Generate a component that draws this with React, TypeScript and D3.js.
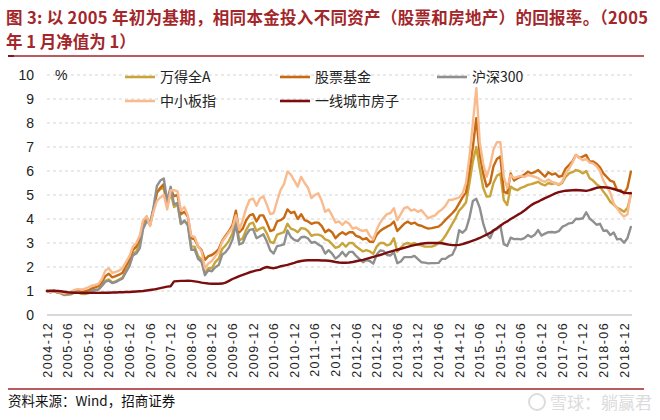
import React from "react";
import * as d3 from "d3";

// Monthly net values, 2004-12 (index 0) to 2019-02 (index 170); base = 1 at 2004-12
const tickLabels = [
  "2004-12", "2005-06", "2005-12", "2006-06", "2006-12", "2007-06", "2007-12", "2008-06",
  "2008-12", "2009-06", "2009-12", "2010-06", "2010-12", "2011-06", "2011-12", "2012-06",
  "2012-12", "2013-06", "2013-12", "2014-06", "2014-12", "2015-06", "2015-12", "2016-06",
  "2016-12", "2017-06", "2017-12", "2018-06", "2018-12",
];

const yTicks = [0, 1, 2, 3, 4, 5, 6, 7, 8, 9, 10];

const seriesNames = ["万得全A", "股票基金", "沪深300", "中小板指", "一线城市房子"];

const windAllA = [
  1.0,
  0.95, 1.0, 0.93, 0.9, 0.83, 0.84, 0.86, 0.93, 0.93, 0.88, 0.87, 0.9,
  0.99, 1.03, 1.06, 1.22, 1.42, 1.48, 1.36, 1.4, 1.48, 1.56, 1.85, 2.1,
  2.55, 2.65, 2.95, 3.8, 4.0, 3.75, 4.4, 5.1, 5.25, 5.3, 4.5, 5.1,
  4.5, 4.6, 3.8, 3.9, 3.8, 2.85, 2.85, 2.45, 2.3, 1.72, 1.95, 1.95,
  2.2, 2.35, 2.75, 2.9, 3.1, 3.4, 3.95, 3.1, 3.2, 3.55, 3.8, 3.85,
  3.5, 3.6, 3.65, 3.4, 3.05, 3.0, 3.35, 3.4, 3.45, 3.8, 3.6, 3.55,
  3.45, 3.62, 3.6, 3.5, 3.3, 3.35, 3.35, 3.3, 3.15, 3.1, 2.95, 2.8,
  2.85, 3.0, 2.85, 3.0, 3.0, 2.85, 2.75, 2.65, 2.7, 2.65, 2.55, 2.85,
  3.0, 3.0, 2.9, 2.95, 3.2, 2.64, 2.8, 2.95, 3.0, 2.95, 3.0, 2.92,
  2.9, 2.85, 2.85, 2.85, 2.9, 3.0, 3.1, 3.3, 3.55, 3.8, 4.05, 4.35,
  4.5, 4.7, 5.5, 6.4, 7.0, 6.1, 5.3, 4.93, 4.95, 5.5, 5.8, 5.9,
  4.79, 4.58, 5.35, 5.25, 5.2, 5.3, 5.35, 5.42, 5.45, 5.5, 5.55, 5.45,
  5.4, 5.5, 5.45, 5.5, 5.42, 5.5, 5.75, 5.9, 5.95, 6.04, 6.0, 5.9,
  6.0, 5.7, 5.6, 5.45, 5.35, 5.14, 4.95, 4.72, 4.6, 4.46, 4.4, 4.3,
  4.45, 5.0,
];

const stockFund = [
  1.0,
  0.96, 1.01, 0.95, 0.93, 0.87, 0.89, 0.92, 0.99, 1.0, 0.97, 0.98, 1.02,
  1.1, 1.15, 1.2, 1.38, 1.62, 1.72, 1.57, 1.62, 1.68, 1.76, 2.05, 2.3,
  2.7, 2.85, 3.15, 3.9, 4.1, 3.75, 4.4, 5.1, 5.3, 5.45, 4.6, 5.25,
  4.95, 5.0, 4.2, 4.3, 4.1, 3.2, 3.15, 2.85, 2.7, 2.3, 2.45, 2.5,
  2.6, 2.75, 3.1, 3.3, 3.5, 3.75, 4.35, 3.45, 3.6, 3.95, 4.15, 4.2,
  3.9, 4.15, 4.15, 3.85, 3.5, 3.55, 3.9, 3.95, 4.05, 4.4, 4.25, 4.3,
  4.0, 4.2, 3.95, 3.9, 3.8, 3.85, 3.85, 3.7, 3.45, 3.55, 3.45, 3.2,
  3.35, 3.45, 3.35, 3.45, 3.45, 3.3, 3.25, 3.15, 3.2, 3.05, 3.05, 3.35,
  3.5, 3.6, 3.68, 3.75, 3.89, 3.5, 3.65, 3.8, 3.89, 3.8, 3.85, 3.75,
  3.72, 3.65, 3.6, 3.62, 3.65, 3.68, 3.8, 3.96, 4.1, 4.24, 4.4, 4.65,
  4.9, 5.1, 6.0, 7.0, 8.2, 6.7, 5.9, 5.35, 5.5, 6.2, 6.5, 6.6,
  5.14, 5.07, 5.9, 5.6, 5.7, 5.76, 5.85, 5.97, 5.9, 5.95, 6.04, 5.9,
  5.76, 5.95, 5.85, 5.9, 5.76, 5.8, 6.1, 6.25, 6.4, 6.67, 6.55, 6.6,
  6.67, 6.39, 6.4, 6.3, 6.15, 5.9, 5.75, 5.6, 5.55, 5.2, 5.2, 5.07,
  5.3, 5.97,
];

const csi300 = [
  1.0,
  0.94, 1.01, 0.94, 0.93, 0.85, 0.87, 0.89, 0.96, 0.95, 0.91, 0.9, 0.92,
  1.01, 1.04, 1.07, 1.22, 1.39, 1.43, 1.33, 1.37, 1.45, 1.52, 1.79, 2.04,
  2.48, 2.56, 2.78, 3.59, 3.9, 3.81, 4.47, 5.38, 5.6, 5.69, 4.74, 5.34,
  4.61, 4.67, 3.79, 3.94, 3.73, 2.72, 2.73, 2.34, 2.21, 1.66, 1.87, 1.82,
  1.99, 2.08, 2.51, 2.62, 2.81, 3.14, 3.78, 2.94, 3.0, 3.34, 3.55, 3.58,
  3.2, 3.28, 3.36, 3.07, 2.69, 2.56, 2.87, 2.9, 2.94, 3.52, 3.25, 3.13,
  3.08, 3.24, 3.26, 3.19, 3.01, 3.04, 2.94, 2.85, 2.56, 2.7, 2.56, 2.35,
  2.46, 2.63, 2.45, 2.63, 2.63, 2.46, 2.33, 2.2, 2.29, 2.25, 2.14, 2.52,
  2.69, 2.67, 2.5, 2.48, 2.62, 2.16, 2.23, 2.41, 2.41, 2.41, 2.46, 2.33,
  2.2, 2.18, 2.15, 2.16, 2.16, 2.17, 2.34, 2.34, 2.45, 2.51, 2.81, 3.53,
  3.43, 3.57, 4.05, 4.75, 4.84, 4.47, 3.82, 3.37, 3.2, 3.53, 3.57, 3.73,
  2.95, 2.88, 3.22, 3.16, 3.17, 3.15, 3.2, 3.33, 3.25, 3.34, 3.54, 3.31,
  3.39, 3.45, 3.46, 3.44, 3.49, 3.67, 3.74, 3.82, 3.84, 4.01, 4.0, 4.03,
  4.28, 4.02, 3.9, 3.76, 3.8, 3.51, 3.52, 3.33, 3.44, 3.15, 3.17, 3.01,
  3.2, 3.67,
];

const smeIndex = [
  1.0,
  0.96, 1.02, 0.96, 0.95, 0.9, 0.93, 0.97, 1.05, 1.08, 1.06, 1.1, 1.15,
  1.22, 1.25, 1.3, 1.5, 1.85, 1.95, 1.75, 1.8, 1.85, 1.95, 2.2, 2.45,
  2.85, 3.0, 3.3, 3.95, 4.1, 3.7, 4.3, 4.75, 4.9, 5.0, 4.4, 5.2,
  5.2, 5.15, 4.35, 4.5, 4.15, 3.3, 3.25, 2.85, 2.65, 1.95, 2.15, 2.25,
  2.45, 2.65, 3.05, 3.25, 3.45, 3.65, 4.15, 3.55, 3.95, 4.45, 4.8, 4.85,
  4.55, 4.85, 4.95, 4.6, 4.2, 4.25, 4.75, 5.2, 5.45, 5.97, 5.85, 5.6,
  5.35, 5.76, 5.5, 5.3, 4.87, 5.0, 5.07, 4.75, 4.3, 4.4, 4.15, 3.85,
  3.9, 3.75, 3.9, 3.8, 3.6, 3.65, 3.55, 3.5, 3.55, 3.3, 3.15, 3.55,
  3.85, 4.05, 4.2, 4.25, 4.45, 3.95, 4.2, 4.45, 4.5, 4.35, 4.4, 4.3,
  4.37, 4.2, 4.03, 4.1, 4.15, 4.3, 4.4, 4.55, 4.79, 4.8, 4.85, 4.9,
  5.07, 5.5, 6.6, 8.0, 9.45, 7.2, 6.3, 5.76, 6.2, 6.9, 7.2, 7.2,
  5.76, 5.28, 5.83, 5.7, 5.76, 5.8, 5.75, 5.83, 5.8, 5.76, 5.7, 5.6,
  5.55, 5.65, 5.55, 5.5, 5.45, 5.55, 5.9, 6.1, 6.35, 6.67, 6.55, 6.45,
  6.5, 6.35, 6.32, 6.2, 6.0, 5.6, 5.35, 5.1, 4.65, 4.45, 4.24, 4.1,
  4.2, 5.1,
];

const tier1Housing = [
  1.0,
  1.01, 1.01, 1.0, 0.99, 0.97, 0.95, 0.94, 0.93, 0.92, 0.92, 0.92, 0.92,
  0.92, 0.92, 0.92, 0.93, 0.93, 0.93, 0.94, 0.94, 0.95, 0.95, 0.96, 0.96,
  0.97, 0.98, 0.99, 1.0, 1.02, 1.04, 1.06, 1.09, 1.12, 1.15, 1.18, 1.2,
  1.4, 1.41, 1.42, 1.42, 1.43, 1.42, 1.4, 1.38, 1.35, 1.33, 1.31, 1.3,
  1.3, 1.3, 1.31, 1.35, 1.42, 1.5, 1.56, 1.62, 1.67, 1.72, 1.78, 1.82,
  1.86, 1.88, 1.95, 2.0, 1.97, 1.95, 1.98, 2.03, 2.06, 2.09, 2.13, 2.17,
  2.22, 2.25, 2.27, 2.28, 2.28, 2.28, 2.28, 2.27, 2.27, 2.26, 2.24, 2.21,
  2.19, 2.18, 2.18, 2.19, 2.21, 2.24, 2.27, 2.3, 2.34, 2.38, 2.42, 2.46,
  2.5, 2.55, 2.6, 2.64, 2.68, 2.72, 2.76, 2.8, 2.84, 2.88, 2.91, 2.94,
  2.97, 2.99, 3.0, 3.0, 3.0, 3.0, 2.99, 2.96, 2.93, 2.91, 2.91, 2.92,
  2.95, 3.0, 3.05, 3.1, 3.15, 3.21, 3.28, 3.35, 3.42, 3.52, 3.62, 3.72,
  3.82, 3.9, 4.0, 4.08, 4.17, 4.25, 4.35, 4.47, 4.58, 4.66, 4.72, 4.8,
  4.87, 4.93, 5.0, 5.07, 5.12, 5.15, 5.18, 5.19, 5.2, 5.21, 5.2, 5.19,
  5.17, 5.2, 5.25, 5.3, 5.32, 5.32, 5.31, 5.29, 5.25, 5.2, 5.15, 5.1,
  5.08, 5.07,
];

const seriesValues = [windAllA, stockFund, csi300, smeIndex, tier1Housing];
const seriesColors = ["#C9A43A", "#C86A12", "#8F8F8F", "#F9BB8D", "#7A0E0E"];

const CJK = "'Noto Sans CJK SC', 'Noto Sans', sans-serif";
const LATIN = "'Liberation Sans', Arial, sans-serif";

export default function App() {
  const W = 660;
  const H = 420;
  const x = d3.scaleLinear().domain([0, 168]).range([47, 624]);
  const y = d3.scaleLinear().domain([0, 10]).range([315, 75]);
  const plotRight = 632;

  const line = d3
    .line<number>()
    .x((_, i) => x(i))
    .y((d) => y(d))
    .curve(d3.curveLinear);

  const legendItems = [
    { name: seriesNames[0], color: seriesColors[0], lx: 125, ly: 77 },
    { name: seriesNames[1], color: seriesColors[1], lx: 280, ly: 77 },
    { name: seriesNames[2], color: seriesColors[2], lx: 437, ly: 77 },
    { name: seriesNames[3], color: seriesColors[3], lx: 125, ly: 101 },
    { name: seriesNames[4], color: seriesColors[4], lx: 280, ly: 101 },
  ];

  const titleColor = "#A3262A";

  return (
    <svg
      width={W}
      height={H}
      viewBox={`0 0 ${W} ${H}`}
      style={{ position: "absolute", left: 0, top: 0, background: "#fff" }}
    >
      <rect x={0} y={0} width={W} height={H} fill="#fff" />
      {/* Title */}
      <text
        x={6}
        y={24}
        fill={titleColor}
        fontFamily={CJK}
        fontWeight={700}
        fontSize={16.5}
        textLength={642}
        lengthAdjust="spacing"
      >
        图 3: 以 2005 年初为基期，相同本金投入不同资产（股票和房地产）的回报率。（2005
      </text>
      <text x={6} y={48} fill={titleColor} fontFamily={CJK} fontWeight={700} fontSize={16.5}>
        年 1 月净值为 1）
      </text>
      <line x1={8} x2={644} y1={56} y2={56} stroke={titleColor} strokeWidth={1.5} />
      <line x1={8} x2={14} y1={56} y2={56} stroke="#7a1a1a" strokeWidth={2} />

      {/* Gridlines */}
      {yTicks.map((t) =>
        t === 0 ? null : (
          <line
            key={`g${t}`}
            x1={x(0)}
            x2={plotRight}
            y1={y(t)}
            y2={y(t)}
            stroke="#d4d4d4"
            strokeWidth={1}
            strokeDasharray="3,3"
          />
        )
      )}
      <line x1={x(0)} x2={plotRight} y1={y(0)} y2={y(0)} stroke="#d9d9d9" strokeWidth={2} />

      {/* Y labels */}
      {yTicks.map((t) => (
        <text
          key={`yl${t}`}
          x={34}
          y={y(t)}
          dy="0.36em"
          textAnchor="end"
          fontFamily={LATIN}
          fontSize={14}
          fill="#222"
        >
          {t}
        </text>
      ))}
      <text x={55} y={y(10)} dy="0.36em" fontFamily={LATIN} fontSize={14} fill="#222">
        %
      </text>

      {/* X labels */}
      {tickLabels.map((lab, i) => (
        <text
          key={lab}
          transform={`translate(${x(i * 6)},322) rotate(-90)`}
          textAnchor="end"
          dy="0.36em"
          fontFamily={LATIN}
          fontSize={12.5}
          letterSpacing={1.4}
          fill="#222"
        >
          {lab}
        </text>
      ))}

      {/* Series */}
      {seriesValues.map((vals, k) => (
        <path
          key={seriesNames[k]}
          d={line(vals) || ""}
          fill="none"
          stroke={seriesColors[k]}
          strokeWidth={2.4}
          strokeLinejoin="round"
          strokeLinecap="round"
        />
      ))}

      {/* Legend */}
      {legendItems.map((it) => (
        <g key={it.name}>
          <line x1={it.lx} x2={it.lx + 30} y1={it.ly} y2={it.ly} stroke={it.color} strokeWidth={2.6} />
          <text
            x={it.lx + 35}
            y={it.ly}
            dy="0.36em"
            fontFamily={CJK}
            fontSize={14}
            fill="#222"
          >
            {it.name}
          </text>
        </g>
      ))}

      {/* Footer */}
      <line x1={8} x2={644} y1={389} y2={389} stroke={titleColor} strokeWidth={1.5} />
      <text x={8} y={406} fontFamily={CJK} fontSize={13.5} fill="#111">
        资料来源：Wind，招商证券
      </text>
      <circle cx={537} cy={402} r={8} fill="none" stroke="#dcdcdc" strokeWidth={2} />
      <text x={550} y={409} fontFamily={CJK} fontSize={17} fill="#dcdcdc">
        雪球：躺赢君
      </text>
    </svg>
  );
}
